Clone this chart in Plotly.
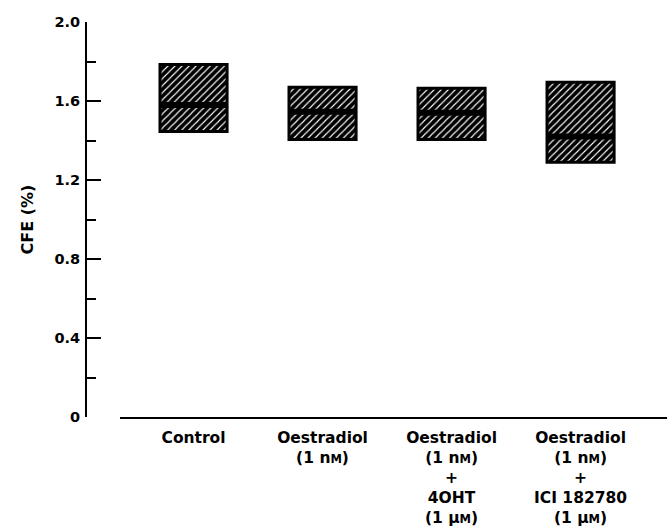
import plotly.graph_objects as go

categories = ["Control", "Oestradiol<br>(1 n<span style='font-size:11.5px'>M</span>)",
              "Oestradiol<br>(1 n<span style='font-size:11.5px'>M</span>)<br>+<br>4OHT<br>(1 μ<span style='font-size:11.5px'>M</span>)",
              "Oestradiol<br>(1 n<span style='font-size:11.5px'>M</span>)<br>+<br>ICI 182780<br>(1 μ<span style='font-size:11.5px'>M</span>)"]
lower = [1.445, 1.405, 1.405, 1.29]
upper = [1.785, 1.67, 1.665, 1.695]
median = [1.58, 1.545, 1.54, 1.42]
y_ticks = [0, 0.4, 0.8, 1.2, 1.6, 2.0]
y_ticklabels = ["0", "0.4", "0.8", "1.2", "1.6", "2.0"]

FONT = "DejaVu Sans"
xs = list(range(len(categories)))
bar_w = 0.52

fig = go.Figure()
fig.add_trace(go.Bar(
    x=xs, y=[u - l for u, l in zip(upper, lower)], base=lower, width=bar_w,
    marker=dict(color="black", line=dict(color="black", width=3),
                pattern=dict(shape="/", bgcolor="black", fgcolor="white",
                             size=5, solidity=0.22, fillmode="replace")),
    showlegend=False, hoverinfo="skip"))
for i, m in enumerate(median):
    fig.add_trace(go.Scatter(x=[i - bar_w / 2, i + bar_w / 2], y=[m, m], mode="lines",
                             line=dict(color="black", width=6), showlegend=False,
                             hoverinfo="skip"))

fig.update_layout(
    width=670, height=532, plot_bgcolor="white", paper_bgcolor="white",
    margin=dict(l=86, r=3, t=22, b=115),
    font=dict(family=FONT, color="black"),
    xaxis=dict(domain=[34 / 581, 1], range=[-0.57, 3.67], tickmode="array",
               tickvals=xs, ticktext=categories, showline=True, linecolor="black",
               linewidth=2, ticks="", showgrid=False, zeroline=False, automargin=False,
               tickfont=dict(family=FONT, size=15.5, color="black", weight="bold"),
               ticklabelstandoff=5),
    yaxis=dict(anchor="free", position=0, range=[0, 2.0], tickmode="array",
               tickvals=y_ticks, ticktext=y_ticklabels, showline=True, automargin=False,
               linecolor="black", linewidth=2, ticks="inside", ticklen=14,
               tickwidth=2, tickcolor="black", showgrid=False, zeroline=False,
               minor=dict(ticks="inside", dtick=0.2, tick0=0, ticklen=9,
                          tickwidth=2, tickcolor="black", showgrid=False),
               tickfont=dict(family=FONT, size=14.5, color="black", weight="bold"),
               ticklabelstandoff=2,
               title=dict(text="CFE (%)", standoff=16,
                          font=dict(family=FONT, size=16, color="black", weight="bold"))),
)
fig.write_html("out.html")
